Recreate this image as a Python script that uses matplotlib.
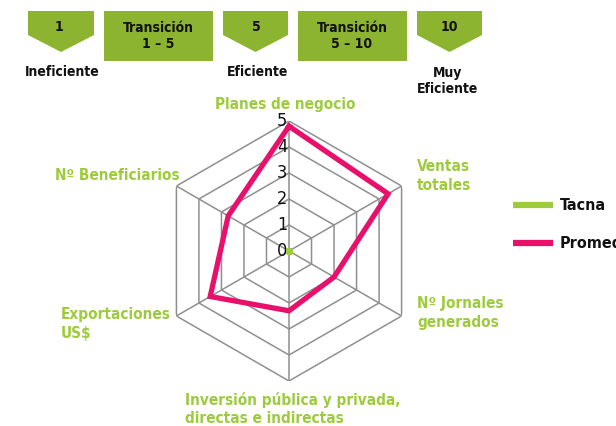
import numpy as np
import matplotlib.pyplot as plt
from matplotlib import font_manager
from matplotlib.patches import Polygon, Rectangle

# data
categories = ['Planes de negocio', 'Ventas\ntotales', 'Nº Jornales\ngenerados',
              'Inversión pública y privada,\ndirectas e indirectas',
              'Exportaciones\nUS$', 'Nº Beneficiarios']
tacna = [0, 0, 0, 0, 0, 0]
promedio = [4.8, 4.4, 2.0, 2.3, 3.5, 2.7]
rings = [1, 2, 3, 4, 5]
tick_labels = ['0', '1', '2', '3', '4', '5']
series_names = ['Tacna', 'Promedio']

GREEN = '#9dcb3c'
BANNER = '#8db431'
PINK = '#e9106b'
GRID = '#8f8f8f'

# look for a condensed face, the original uses a narrow DIN-like font
cond_family, cond_stretch = 'DejaVu Sans', 'normal'
found = []
for f in font_manager.fontManager.ttflist:
    if ('Narrow' in f.name or 'Condensed' in f.name
            or str(f.stretch) in ('condensed', 'semi-condensed', 'extra-condensed')):
        found.append((f.name, str(f.stretch)))
found.sort()
if found:
    cond_family, cond_stretch = found[0]
    for nm, st in found:
        if nm.startswith('DejaVu') or nm.startswith('Liberation'):
            cond_family, cond_stretch = nm, st
            break
plt.rcParams['font.family'] = [cond_family, 'DejaVu Sans']
plt.rcParams['font.stretch'] = cond_stretch

fig = plt.figure(figsize=(6.16, 4.26), dpi=100)

# overlay in pixel coordinates for banner, labels and legend
ov = fig.add_axes([0, 0, 1, 1])
ov.set_xlim(0, 616)
ov.set_ylim(426, 0)
ov.axis('off')

# banner: chevrons and boxes
for x0, x1 in [(28, 94), (223, 288), (417, 482)]:
    xm = (x0 + x1) / 2
    ov.add_patch(Polygon([(x0, 11), (x1, 11), (x1, 35), (xm, 52), (x0, 35)],
                         closed=True, color=BANNER, lw=0))
for x0, x1 in [(104, 213), (298, 407)]:
    ov.add_patch(Rectangle((x0, 11), x1 - x0, 50, color=BANNER, lw=0))

bkw = dict(ha='center', va='center', fontsize=10, fontweight='bold', color='#111111',
           linespacing=1.25)
ov.text(59, 27, '1', **bkw)
ov.text(158, 36, 'Transición\n1 – 5', **bkw)
ov.text(256, 27, '5', **bkw)
ov.text(352, 36, 'Transición\n5 – 10', **bkw)
ov.text(449, 27, '10', **bkw)
ov.text(62, 72, 'Ineficiente', **bkw)
ov.text(258, 72, 'Eficiente', **bkw)
ov.text(448, 81, 'Muy\nEficiente', **bkw)

# category labels
lkw = dict(fontsize=11, fontweight='bold', color=GREEN, linespacing=1.3)
ov.text(285, 104, categories[0], ha='center', va='center', **lkw)
ov.text(417, 176, categories[1], ha='left', va='center', **lkw)
ov.text(417, 313, categories[2], ha='left', va='center', **lkw)
ov.text(185, 409, categories[3], ha='left', va='center', **lkw)
ov.text(61, 324, categories[4], ha='left', va='center', **lkw)
ov.text(55, 175, categories[5], ha='left', va='center', **lkw)

# legend
ov.plot([513, 553], [205, 205], color=GREEN, lw=4.5, solid_capstyle='butt')
ov.plot([513, 553], [243, 243], color=PINK, lw=4.5, solid_capstyle='butt')
ov.text(560, 205, series_names[0], ha='left', va='center', fontsize=11.5,
        fontweight='bold', color='#111111')
ov.text(560, 243, series_names[1], ha='left', va='center', fontsize=11.5,
        fontweight='bold', color='#111111')

# radar
ax = fig.add_axes([159 / 616, 45 / 426, 260 / 616, 260 / 426], projection='polar')
ax.set_facecolor('none')
ax.set_theta_zero_location('N')
ax.set_theta_direction(-1)
ax.set_ylim(0, 5)
ax.grid(False)
ax.set_xticks([])
ax.set_yticks([])
ax.spines['polar'].set_visible(False)

n = len(categories)
theta = np.linspace(0, 2 * np.pi, n, endpoint=False)
theta_c = np.append(theta, theta[0])

for t in theta:
    ax.plot([t, t], [0, 5], color=GRID, lw=1.1, zorder=1)
for r in rings:
    ax.plot(theta_c, [r] * (n + 1), color=GRID, lw=1.1, zorder=1)

for i, lab in enumerate(tick_labels):
    ax.annotate(lab, (0, i), xytext=(-5, 0), textcoords='offset points',
                ha='center', va='center', fontsize=13, color='#111111', zorder=3)

ax.plot(theta_c, promedio + promedio[:1], color=PINK, lw=3.8, zorder=4,
        solid_joinstyle='miter')
ax.plot(theta_c, tacna + tacna[:1], color=GREEN, lw=3.8, zorder=5,
        solid_capstyle='round', marker='o', ms=5, markeredgewidth=0)

fig.savefig('out.png', dpi=100)
